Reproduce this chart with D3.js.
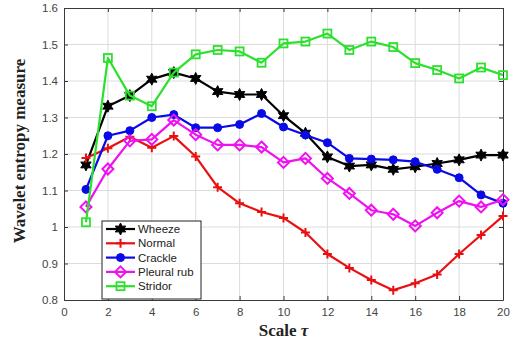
<!DOCTYPE html>
<html>
<head>
<meta charset="utf-8">
<script src="https://cdn.jsdelivr.net/npm/d3@7"></script>
<style>
  body { margin: 0; background: #fff; }
  svg { display: block; }
</style>
</head>
<body>
<svg id="chart"></svg>
<script>
const scales = d3.range(1, 21);
const wheeze = [1.170, 1.331, 1.360, 1.405, 1.423, 1.407, 1.371, 1.363, 1.363, 1.305,
  1.257, 1.192, 1.167, 1.170, 1.158, 1.165, 1.174, 1.184, 1.197, 1.197];
const normal = [1.189, 1.216, 1.247, 1.217, 1.249, 1.193, 1.109, 1.065, 1.041, 1.025,
  0.985, 0.926, 0.888, 0.855, 0.827, 0.846, 0.870, 0.926, 0.978, 1.030];
const crackle = [1.103, 1.250, 1.264, 1.300, 1.308, 1.272, 1.272, 1.281, 1.311, 1.274,
  1.252, 1.231, 1.188, 1.186, 1.184, 1.179, 1.158, 1.135, 1.088, 1.065];
const pleural = [1.055, 1.159, 1.236, 1.240, 1.293, 1.253, 1.225, 1.225, 1.219, 1.177,
  1.188, 1.133, 1.092, 1.046, 1.035, 1.003, 1.039, 1.071, 1.055, 1.075];
const stridor = [1.013, 1.463, 1.360, 1.331, 1.423, 1.473, 1.485, 1.481, 1.450, 1.503,
  1.508, 1.530, 1.485, 1.508, 1.493, 1.449, 1.430, 1.407, 1.437, 1.416];
const xTicks = [0, 2, 4, 6, 8, 10, 12, 14, 16, 18, 20];
const yTicks = [0.8, 0.9, 1, 1.1, 1.2, 1.3, 1.4, 1.5, 1.6];

const series = [
  { name: 'Wheeze', values: wheeze, color: '#000000', marker: 'star' },
  { name: 'Normal', values: normal, color: '#e81010', marker: 'plus' },
  { name: 'Crackle', values: crackle, color: '#0a0ae6', marker: 'circle' },
  { name: 'Pleural rub', values: pleural, color: '#f010f0', marker: 'diamond' },
  { name: 'Stridor', values: stridor, color: '#2ee02e', marker: 'square' }
];

const width = 510;
const height = 345;
const padLeft = 64, padRight = 503, padTop = 8, padBot = 300;

const svg = d3.select('#chart').attr('width', width).attr('height', height);

const x = d3.scaleLinear().domain([0, 20]).range([padLeft, padRight]);
const y = d3.scaleLinear().domain([0.8, 1.6]).range([padBot, padTop]);

/* grid */
svg.append('g')
  .selectAll('line')
  .data(xTicks.slice(1, -1))
  .join('line')
  .attr('x1', d => x(d)).attr('x2', d => x(d))
  .attr('y1', padTop).attr('y2', padBot)
  .attr('stroke', '#dcdcdc').attr('stroke-width', 1);
svg.append('g')
  .selectAll('line')
  .data(yTicks.slice(1, -1))
  .join('line')
  .attr('x1', padLeft).attr('x2', padRight)
  .attr('y1', d => y(d)).attr('y2', d => y(d))
  .attr('stroke', '#dcdcdc').attr('stroke-width', 1);

/* axes, MATLAB style ticks inside */
const fmt = d => d3.format('')(d);
const axisStyle = g => {
  g.select('.domain').attr('stroke', '#3a3a3a');
  g.selectAll('.tick line').attr('stroke', '#3a3a3a');
  g.selectAll('.tick text')
    .attr('fill', '#444')
    .style('font-family', 'Liberation Sans, Arial, sans-serif')
    .style('font-size', '11.5px');
};
svg.append('g')
  .attr('transform', `translate(0,${padBot})`)
  .call(d3.axisBottom(x).tickValues(xTicks).tickFormat(fmt).tickSizeInner(-4).tickSizeOuter(0).tickPadding(8))
  .call(axisStyle);
svg.append('g')
  .attr('transform', `translate(0,${padTop})`)
  .call(d3.axisTop(x).tickValues(xTicks).tickFormat('').tickSizeInner(-4).tickSizeOuter(0))
  .call(axisStyle);
svg.append('g')
  .attr('transform', `translate(${padLeft},0)`)
  .call(d3.axisLeft(y).tickValues(yTicks).tickFormat(fmt).tickSizeInner(-4).tickSizeOuter(0).tickPadding(6))
  .call(axisStyle);
svg.append('g')
  .attr('transform', `translate(${padRight},0)`)
  .call(d3.axisRight(y).tickValues(yTicks).tickFormat('').tickSizeInner(-4).tickSizeOuter(0))
  .call(axisStyle);

/* markers */
const star6 = (() => {
  const pts = [];
  for (let i = 0; i < 12; i++) {
    const r = i % 2 === 0 ? 6 : 3.2;
    const a = Math.PI / 6 * i - Math.PI / 2;
    pts.push([r * Math.cos(a), r * Math.sin(a)]);
  }
  return 'M' + pts.map(p => p.join(',')).join('L') + 'Z';
})();

function drawMarker(g, type, color) {
  if (type === 'star') {
    g.append('path').attr('d', star6).attr('fill', color).attr('stroke', color).attr('stroke-width', 1);
  } else if (type === 'plus') {
    g.append('path').attr('d', 'M-4.5,0H4.5M0,-4.5V4.5').attr('stroke', color).attr('stroke-width', 2);
  } else if (type === 'circle') {
    g.append('circle').attr('r', 4).attr('fill', color).attr('stroke', color);
  } else if (type === 'diamond') {
    g.append('path').attr('d', 'M0,-5.5L5.5,0L0,5.5L-5.5,0Z').attr('fill', 'none').attr('stroke', color).attr('stroke-width', 2);
  } else if (type === 'square') {
    g.append('rect').attr('x', -4).attr('y', -4).attr('width', 8).attr('height', 8)
      .attr('fill', 'none').attr('stroke', color).attr('stroke-width', 1.8);
  }
}

const line = d3.line().x((d, i) => x(scales[i])).y(d => y(d));

series.forEach(s => {
  const g = svg.append('g');
  g.append('path')
    .datum(s.values)
    .attr('d', line)
    .attr('fill', 'none')
    .attr('stroke', s.color)
    .attr('stroke-width', 2.2)
    .attr('stroke-linejoin', 'round');
  s.values.forEach((v, i) => {
    const m = g.append('g').attr('transform', `translate(${x(scales[i])},${y(v)})`);
    drawMarker(m, s.marker, s.color);
  });
});

/* legend */
const legend = svg.append('g').attr('transform', 'translate(102,221)');
legend.append('rect')
  .attr('width', 99).attr('height', 78)
  .attr('fill', '#fff').attr('stroke', '#222').attr('stroke-width', 1);
series.forEach((s, i) => {
  const row = legend.append('g').attr('transform', `translate(0,${8 + i * 14.3})`);
  row.append('line').attr('x1', 4).attr('x2', 33).attr('stroke', s.color).attr('stroke-width', 2.2);
  drawMarker(row.append('g').attr('transform', 'translate(18.5,0)'), s.marker, s.color);
  row.append('text')
    .attr('x', 36).attr('y', 4)
    .text(s.name)
    .style('font-family', 'Liberation Sans, Arial, sans-serif')
    .style('font-size', '11.5px')
    .attr('fill', '#222');
});

/* axis titles */
svg.append('text')
  .attr('x', (padLeft + padRight) / 2)
  .attr('y', 336)
  .attr('text-anchor', 'middle')
  .style('font-family', 'Liberation Serif, Times New Roman, serif')
  .style('font-weight', 'bold')
  .style('font-size', '17px')
  .attr('fill', '#222')
  .html('Scale <tspan font-style="italic">τ</tspan>');

svg.append('text')
  .attr('transform', `translate(25,${(padTop + padBot) / 2 - 3}) rotate(-90)`)
  .attr('text-anchor', 'middle')
  .style('font-family', 'Liberation Serif, Times New Roman, serif')
  .style('font-weight', 'bold')
  .style('font-size', '17px')
  .attr('fill', '#222')
  .text('Wavelet entropy measure');
</script>
</body>
</html>
